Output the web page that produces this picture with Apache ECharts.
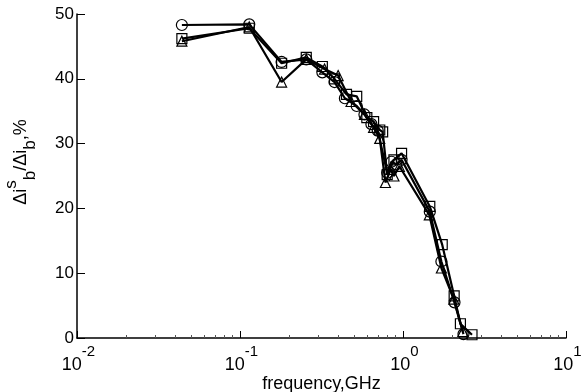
<!DOCTYPE html>
<html>
<head>
<meta charset="utf-8">
<script src="https://cdn.jsdelivr.net/npm/echarts@6/dist/echarts.min.js"></script>
<style>
  html, body { margin: 0; padding: 0; background: #fff; }
  #chart { width: 584px; height: 392px; }
</style>
</head>
<body>
<div id="chart"></div>
<script>
// Frequencies (GHz) and relative response (%) for each measurement set
const freqCircle = [0.044, 0.114, 0.18, 0.255, 0.32, 0.38, 0.44, 0.52, 0.58, 0.64, 0.70, 0.80, 0.85, 0.91, 0.98, 1.46, 1.72, 2.07, 2.35];
const valCircle  = [48.3, 48.4, 42.6, 43.0, 41.0, 39.5, 37.0, 35.8, 34.5, 33.0, 32.0, 25.5, 27.2, 26.8, 27.5, 19.5, 11.8, 5.5, 0.6];

const freqTriangle = [0.044, 0.114, 0.18, 0.255, 0.33, 0.40, 0.48, 0.58, 0.66, 0.72, 0.78, 0.84, 0.88, 0.95, 1.45, 1.72, 2.05, 2.33];
const valTriangle  = [45.8, 48.0, 39.5, 43.0, 41.5, 40.5, 36.5, 34.5, 32.5, 30.8, 24.0, 26.0, 25.0, 26.5, 19.0, 10.8, 6.0, 1.0];

const freqSquare = [0.044, 0.114, 0.18, 0.255, 0.32, 0.38, 0.45, 0.52, 0.60, 0.66, 0.72, 0.75, 0.80, 0.88, 0.98, 1.46, 1.74, 2.06, 2.25, 2.65];
const valSquare  = [46.2, 47.8, 42.4, 43.3, 41.9, 40.0, 37.6, 37.3, 34.0, 33.4, 32.1, 31.8, 25.2, 27.5, 28.5, 20.3, 14.4, 6.5, 2.2, 0.5];

const xDecades = [0.01, 0.1, 1, 10];
const xExponents = ['-2', '-1', '0', '1'];
const minorFreqs = [];
[0.01, 0.1, 1].forEach(d => { for (let k = 2; k <= 9; k++) minorFreqs.push(+(d * k).toPrecision(3)); });

const pairs = (xs, ys) => xs.map((x, i) => [x, ys[i]]);

const FONT = 'Liberation Sans';

function makeSeries(name, symbol, size, xs, ys) {
  return {
    name, type: 'line', xAxisIndex: 0, yAxisIndex: 0,
    data: pairs(xs, ys),
    symbol, symbolSize: size,
    showAllSymbol: true,
    lineStyle: { color: '#000', width: 2.2 },
    itemStyle: { color: 'rgba(0,0,0,0)', borderColor: '#000', borderWidth: 1.2 },
    emphasis: { disabled: true },
    z: 2
  };
}

const chart = echarts.init(document.getElementById('chart'), null, { renderer: 'canvas' });
chart.setOption({
  animation: false,
  backgroundColor: '#fff',
  grid: { left: 77, right: 18, top: 14, bottom: 54, outerBoundsMode: 'none', containLabel: false },
  xAxis: [{
    type: 'log', logBase: 10, min: 0.01, max: 10,
    name: 'frequency,GHz', nameLocation: 'middle', nameGap: 37, nameMoveOverlap: false,
    nameTextStyle: { fontFamily: FONT, fontSize: 18, color: '#000' },
    axisLine: { lineStyle: { color: '#000', width: 1.5 } },
    axisTick: { inside: true, length: 7, lineStyle: { color: '#000', width: 1 } },
    splitLine: { show: false },
    axisLabel: {
      color: '#000', margin: 6,
      formatter: v => {
        const i = xDecades.findIndex(d => Math.abs(Math.log10(d) - Math.log10(v)) < 1e-6);
        if (i < 0) return '';
        return '{p|}{b|10}{s|' + xExponents[i] + '}';
      },
      rich: {
        b: { fontFamily: FONT, fontSize: 18, color: '#000', verticalAlign: 'bottom', lineHeight: 30 },
        s: { fontFamily: FONT, fontSize: 15, color: '#000', verticalAlign: 'top', lineHeight: 30 },
        p: { width: 3 }
      }
    }
  }, {
    type: 'log', logBase: 10, min: 0.01, max: 10, gridIndex: 0,
    position: 'bottom',
    axisLine: { show: false },
    axisLabel: { show: false },
    splitLine: { show: false },
    axisTick: { show: true, inside: true, length: 3, customValues: minorFreqs, lineStyle: { color: '#555', width: 1 } }
  }],
  yAxis: {
    type: 'value', min: 0, max: 50, interval: 10,
    name: '{a|Δi}{sup|s}{sub|b}{a|/Δi}{sub|b}{a|,%}',
    nameLocation: 'middle', nameRotate: 90, nameGap: 38, nameMoveOverlap: false,
    nameTextStyle: {
      padding: [0, 0, 0, 28],
      rich: {
        a: { fontFamily: FONT, fontSize: 18, color: '#000', verticalAlign: 'middle', lineHeight: 36 },
        sup: { fontFamily: FONT, fontSize: 17, color: '#000', verticalAlign: 'top', lineHeight: 36 },
        sub: { fontFamily: FONT, fontSize: 17, color: '#000', verticalAlign: 'bottom', lineHeight: 36 }
      }
    },
    axisLine: { show: true, lineStyle: { color: '#000', width: 1.5 } },
    axisTick: { show: true, inside: true, length: 8, lineStyle: { color: '#000', width: 1 } },
    splitLine: { show: false },
    axisLabel: { color: '#000', fontFamily: FONT, fontSize: 17, margin: 3 }
  },
  series: [
    makeSeries('circle', 'circle', 11, freqCircle, valCircle),
    makeSeries('triangle', 'triangle', 10, freqTriangle, valTriangle),
    makeSeries('square', 'rect', 10, freqSquare, valSquare)
  ]
});
</script>
</body>
</html>
